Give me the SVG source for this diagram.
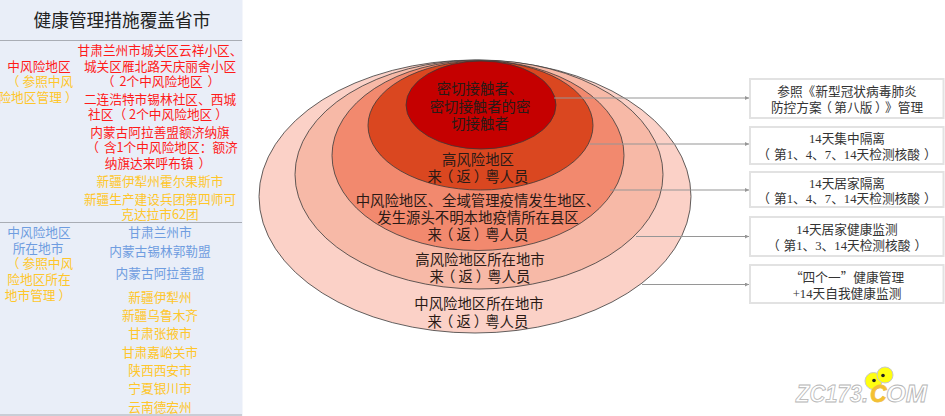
<svg xmlns="http://www.w3.org/2000/svg" width="945" height="416" viewBox="0 0 945 416">
<style>
text{font-family:"Noto Sans CJK SC","Noto Sans",sans-serif;text-anchor:middle;font-size:12.7px;text-spacing-trim:space-all;font-kerning:none}
.r{fill:#ff1a1a}.y{fill:#ffc62a}.b{fill:#6f9de0}
.t{font-size:14.4px;fill:#2a1a16}
.q{font-family:"Liberation Serif","Noto Sans CJK SC",serif;fill:#333}
.qm{font-family:"Noto Sans CJK SC",sans-serif}
.e{stroke:#3a3a3a;stroke-width:.8}
.box{fill:#fff;stroke:#e2e2e2;stroke-width:2}
.c{stroke:#969696;stroke-width:1.2;fill:none;marker-end:url(#a)}
.w{font-family:"Liberation Sans",sans-serif;font-style:italic;font-weight:700;font-size:23px;fill:#fff;stroke:#b5b5b5;stroke-width:.8;text-anchor:start}
</style>
<defs><marker id="a" markerWidth="4" markerHeight="4" refX="4" refY="2" orient="auto" markerUnits="userSpaceOnUse"><path d="M0 0L4 2L0 4Z" fill="#969696"/></marker></defs>
<rect width="945" height="416" fill="#fff"/>
<g id="panel">
<rect x="0" y="0" width="243" height="416" fill="#e9eef8"/>
<path d="M0 40.5H243M0 222.5H243M0 415H243" stroke="#a9adb5" stroke-width="1" fill="none"/>
<path d="M242.500 0V416" stroke="#f4f6fb" stroke-width="1"/>
<text x="122" y="26.500" style="font-size:17.7px;fill:#222">健康管理措施覆盖省市</text>
<text class="r" x="39" y="71">中风险地区</text>
<text class="y" x="40" y="85.500">（<tspan dx="3">参照中风</tspan></text>
<text class="y" x="38" y="102">险地区管理<tspan dx="3">）</tspan></text>
<text class="r" x="160" y="55">甘肃兰州市城关区云祥小区、</text>
<text class="r" x="160" y="71">城关区雁北路天庆丽舍小区</text>
<text class="r" x="161" y="86">（<tspan dx="5">2个中风险地区</tspan><tspan dx="5">）</tspan></text>
<text class="r" x="160" y="104">二连浩特市锡林社区、西城</text>
<text class="r" x="158" y="119">社区（<tspan dx="3">2个中风险地区</tspan><tspan dx="3">）</tspan></text>
<text class="r" x="160" y="137">内蒙古阿拉善盟额济纳旗</text>
<text class="r" x="162" y="152">（<tspan dx="5">含1个中风险地区：额济</tspan></text>
<text class="r" x="158" y="168">纳旗达来呼布镇<tspan dx="5">）</tspan></text>
<text class="y" x="160" y="186">新疆伊犁州霍尔果斯市</text>
<text class="y" x="160" y="204">新疆生产建设兵团第四师可</text>
<text class="y" x="160" y="219">克达拉市62团</text>
<text class="b" x="39" y="237">中风险地区</text>
<text class="b" x="38" y="253">所在地市</text>
<text class="y" x="40" y="268">（<tspan dx="3">参照中风</tspan></text>
<text class="y" x="39" y="284">险地区所在</text>
<text class="y" x="38" y="300">地市管理<tspan dx="3">）</tspan></text>
<text class="b" x="160" y="237">甘肃兰州市</text>
<text class="b" x="160" y="256">内蒙古锡林郭勒盟</text>
<text class="b" x="160" y="278">内蒙古阿拉善盟</text>
<text class="y" x="160" y="302">新疆伊犁州</text>
<text class="y" x="160" y="320">新疆乌鲁木齐</text>
<text class="y" x="160" y="338">甘肃张掖市</text>
<text class="y" x="160" y="357">甘肃嘉峪关市</text>
<text class="y" x="160" y="375">陕西西安市</text>
<text class="y" x="160" y="393">宁夏银川市</text>
<text class="y" x="160" y="412">云南德宏州</text>
</g>
<g id="ring5"><ellipse class="e" cx="475" cy="196.500" rx="216" ry="136.500" fill="#fbd1c7"/></g>
<g id="ring4"><ellipse class="e" cx="479" cy="174.500" rx="184" ry="114.500" fill="#f7b9a7"/></g>
<g id="ring3"><ellipse class="e" cx="478" cy="155.500" rx="146" ry="95" fill="#f2896e"/></g>
<g id="ring2"><ellipse class="e" cx="480.500" cy="125.500" rx="112.500" ry="64.500" fill="#da4720"/></g>
<g id="ring1"><ellipse class="e" cx="481" cy="105" rx="75" ry="44" fill="#c50000"/></g>
<g id="connectors">
<path class="c" d="M554 98H749"/>
<path class="c" d="M590 144H749"/>
<path class="c" d="M610 190H749"/>
<path class="c" d="M636 236.500H749"/>
<path class="c" d="M642 284.500H749"/>
</g>
<g id="ring-labels">
<text class="t" x="480" y="94">密切接触者、</text>
<text class="t" x="480" y="112">密切接触者的密</text>
<text class="t" x="480" y="129">切接触者</text>
<text class="t" x="478" y="165">高风险地区</text>
<text class="t" x="478" y="182">来<tspan dx="-3">（</tspan><tspan dx="3">返</tspan><tspan dx="3">）</tspan><tspan dx="-3">粤人员</tspan></text>
<text class="t" x="478" y="205.500">中风险地区、全域管理疫情发生地区、</text>
<text class="t" x="478" y="223">发生源头不明本地疫情所在县区</text>
<text class="t" x="478" y="240">来<tspan dx="-3">（</tspan><tspan dx="3">返</tspan><tspan dx="3">）</tspan><tspan dx="-3">粤人员</tspan></text>
<text class="t" x="480" y="265">高风险地区所在地市</text>
<text class="t" x="480" y="282">来<tspan dx="-3">（</tspan><tspan dx="3">返</tspan><tspan dx="3">）</tspan><tspan dx="-3">粤人员</tspan></text>
<text class="t" x="479" y="309">中风险地区所在地市</text>
<text class="t" x="478" y="327">来<tspan dx="-3">（</tspan><tspan dx="3">返</tspan><tspan dx="3">）</tspan><tspan dx="-3">粤人员</tspan></text>
</g>
<g id="box1"><rect class="box" x="750" y="79" width="193.500" height="39"/>
<text class="q" x="847" y="96">参照《新型冠状病毒肺炎</text><text class="q" x="847" y="112">防控方案<tspan dx="-2.500">（</tspan><tspan dx="2.500">第八版</tspan><tspan dx="2.500">）</tspan><tspan dx="-2.500">》管理</tspan></text></g>
<g id="box2"><rect class="box" x="750" y="127" width="193.500" height="37"/>
<text class="q" x="847" y="143">14天集中隔离</text><text class="q" x="847" y="159">（<tspan dx="4">第1、4、7、14天检测核酸</tspan><tspan dx="4">）</tspan></text></g>
<g id="box3"><rect class="box" x="750" y="172" width="193.500" height="35"/>
<text class="q" x="847" y="188">14天居家隔离</text><text class="q" x="847" y="203">（<tspan dx="4">第1、4、7、14天检测核酸</tspan><tspan dx="4">）</tspan></text></g>
<g id="box4"><rect class="box" x="750" y="217" width="193.500" height="39"/>
<text class="q" x="847" y="234">14天居家健康监测</text><text class="q" x="847" y="250">（<tspan dx="4">第1、3、14天检测核酸</tspan><tspan dx="4">）</tspan></text></g>
<g id="box5"><rect class="box" x="750" y="265" width="193.500" height="38"/>
<text class="q" x="847" y="282"><tspan class="qm">“</tspan>四个一<tspan class="qm">”</tspan>健康管理</text><text class="q" x="847" y="298">+14天自我健康监测</text></g>
<g id="watermark">
<circle cx="873.500" cy="381" r="8.500" fill="#ffff10" stroke="#c8c8c8"/>
<circle cx="885" cy="375" r="8" fill="#ffff10" stroke="#c8c8c8"/>
<circle cx="874" cy="380.500" r="1.800" fill="#222"/>
<circle cx="883" cy="375.500" r="1.800" fill="#222"/>
<text class="w" x="796" y="402" textLength="72" lengthAdjust="spacingAndGlyphs">ZC173.</text>
<text class="w" x="870" y="402" style="fill:#f5c132;stroke:#f0c040">C</text>
<text class="w" x="886" y="402" textLength="41" lengthAdjust="spacingAndGlyphs">OM</text>
</g>
</svg>
